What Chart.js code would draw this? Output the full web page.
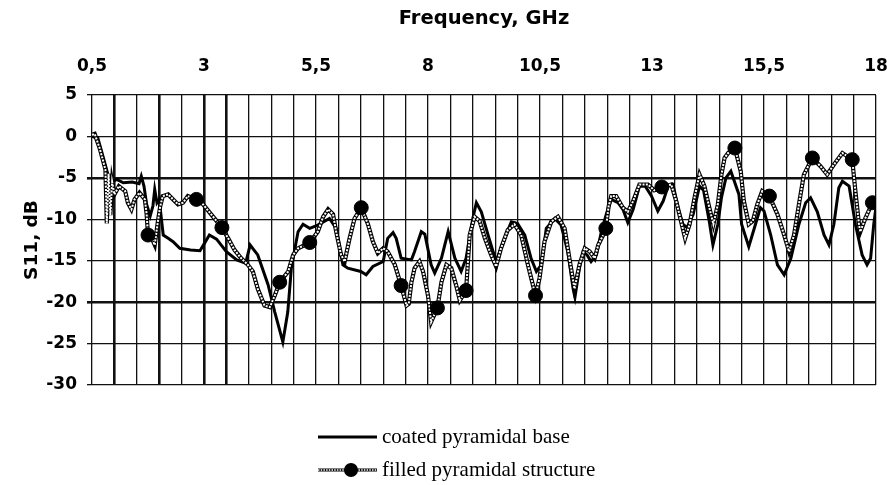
<!DOCTYPE html>
<html>
<head>
<meta charset="utf-8">
<script src="https://cdn.jsdelivr.net/npm/chart.js@4.4.1/dist/chart.umd.min.js"></script>
<style>
  html, body { margin: 0; padding: 0; background: #fff; }
  #wrap { position: relative; width: 887px; height: 485px; }
  #legend { position: absolute; left: 318px; top: 420px; font-family: "Liberation Serif", "Times New Roman", serif; font-size: 21px; color: #000; }
  .row { display: flex; align-items: center; height: 33px; white-space: nowrap; }
  .row svg { margin-right: 4px; }
</style>
</head>
<body>
<div id="wrap">
  <canvas id="c" width="887" height="485"></canvas>
  <div id="legend"></div>
</div>
<script>
// ---- data ----
const xTickValues = [0.5, 3, 5.5, 8, 10.5, 13, 15.5, 18];
const xTickLabels = ['0,5', '3', '5,5', '8', '10,5', '13', '15,5', '18'];
const thickXGrid = [1, 2, 3, 3.5];
const thickYGrid = [-5, -20];

const seriesNames = ['coated pyramidal base', 'filled pyramidal structure'];

// coated pyramidal base
const coatedFreq = [0.5,0.63,0.75,0.85,0.95,1.05,1.2,1.4,1.55,1.6,1.66,1.72,1.8,1.86,1.9,1.95,2.0,2.04,2.09,2.2,2.31,2.46,2.7,2.91,3.0,3.12,3.28,3.5,3.73,3.93,4.03,4.1,4.2,4.43,4.58,4.76,4.87,4.95,5.03,5.1,5.21,5.36,5.54,5.8,5.95,6.1,6.21,6.5,6.62,6.77,7.0,7.1,7.22,7.29,7.4,7.63,7.7,7.85,7.93,8.07,8.15,8.3,8.45,8.6,8.74,8.85,9.0,9.08,9.19,9.34,9.52,9.71,9.86,10.0,10.16,10.3,10.42,10.53,10.64,10.83,10.97,11.12,11.24,11.28,11.38,11.46,11.55,11.64,11.76,11.87,11.98,12.09,12.24,12.35,12.46,12.58,12.72,12.85,12.99,13.13,13.25,13.36,13.47,13.58,13.69,13.78,13.92,14.06,14.15,14.28,14.36,14.47,14.55,14.65,14.76,14.94,15.0,15.16,15.31,15.42,15.5,15.65,15.8,15.95,16.1,16.28,16.43,16.54,16.69,16.84,16.95,17.06,17.17,17.25,17.4,17.54,17.69,17.8,17.88,17.95,18.0];
const coatedS11 = [0,-0.2,-2.5,-4.5,-5.5,-5.2,-5.6,-5.5,-5.7,-4.8,-6,-8.2,-9.6,-8.4,-6.4,-8,-7.6,-9.5,-11.9,-12.3,-12.7,-13.5,-13.7,-13.8,-13,-11.9,-12.4,-13.9,-14.9,-15.3,-13.1,-13.6,-14.3,-17.9,-21.2,-24.8,-21.2,-15.9,-13.5,-11.5,-10.6,-11.1,-10.7,-9.9,-11.1,-15.5,-15.9,-16.3,-16.7,-15.7,-15.1,-12.3,-11.6,-12.3,-14.7,-14.9,-13.9,-11.5,-11.8,-15.5,-16.5,-14.7,-11.5,-14.7,-16.3,-14.7,-9.9,-8.0,-9.1,-11.9,-15.1,-12.3,-10.3,-10.5,-11.9,-14.7,-16.3,-15.5,-11.1,-9.9,-10.7,-13.9,-18.4,-19.4,-15.9,-13.9,-14.3,-15.1,-14.3,-11.5,-9.4,-7.6,-8.0,-8.8,-10.4,-8.8,-6.0,-6.0,-7.2,-9.0,-7.8,-6.0,-5.8,-8.6,-10.6,-11,-9.4,-6.0,-6.5,-10.3,-13.1,-10.6,-7.4,-5,-4.2,-7.0,-10.6,-13.3,-10.6,-8.6,-9,-11.9,-15.5,-16.7,-14.7,-10.6,-8.0,-7.4,-9.1,-11.9,-13.1,-10.6,-6.2,-5.4,-6.0,-10.6,-14.3,-15.5,-14.7,-10.6,-8.5];

// filled pyramidal structure
const filledFreq = [0.5,0.56,0.67,0.75,0.8,0.83,0.87,0.91,0.95,1.0,1.1,1.24,1.3,1.38,1.45,1.56,1.68,1.72,1.75,1.85,1.9,1.97,2.02,2.08,2.2,2.31,2.42,2.53,2.64,2.83,2.98,3.16,3.4,3.54,3.68,3.83,3.98,4.09,4.2,4.35,4.47,4.58,4.69,4.88,4.99,5.1,5.36,5.54,5.66,5.77,5.88,5.95,6.06,6.14,6.25,6.36,6.51,6.66,6.77,6.88,7.0,7.1,7.26,7.4,7.52,7.57,7.63,7.7,7.81,7.89,8.0,8.07,8.21,8.3,8.41,8.52,8.63,8.71,8.85,8.93,9.04,9.15,9.27,9.41,9.52,9.63,9.78,9.93,10.08,10.23,10.4,10.49,10.6,10.75,10.9,11.05,11.15,11.27,11.38,11.5,11.61,11.72,11.8,11.9,11.97,12.03,12.09,12.2,12.35,12.46,12.58,12.72,12.91,13.05,13.22,13.43,13.54,13.65,13.74,13.84,13.95,14.06,14.17,14.28,14.37,14.47,14.55,14.62,14.7,14.85,14.98,15.05,15.16,15.25,15.35,15.46,15.62,15.8,15.95,16.06,16.17,16.28,16.39,16.58,16.76,16.91,17.06,17.25,17.47,17.54,17.62,17.65,17.76,17.92,18.0];
const filledS11 = [0.2,0.3,-1.4,-3.0,-4,-10.5,-4.5,-9.5,-5.5,-7,-6,-6.6,-8.0,-8.8,-7.6,-6.8,-7.6,-9.4,-11.9,-12.5,-13.1,-10.3,-8.5,-7.2,-7.0,-7.6,-8.2,-8.0,-7.2,-7.6,-8.2,-9.4,-11.0,-12.3,-13.7,-14.7,-15.5,-16.3,-18.4,-20.4,-20.6,-19.2,-17.6,-16.3,-14.3,-13.5,-12.8,-11.5,-9.7,-8.8,-9.4,-11.5,-14.3,-15.1,-12.3,-9.9,-8.6,-10.6,-12.7,-14.1,-13.5,-13.9,-15.5,-18.0,-20.4,-20.2,-17.6,-15.9,-15.1,-16.3,-19.2,-22.4,-20.7,-17.6,-15.5,-15.9,-18.0,-19.8,-18.6,-11.9,-9.7,-10.2,-12.3,-14.3,-15.7,-13.5,-11.3,-10.6,-11.9,-15.5,-19.2,-17.1,-12.7,-10.3,-9.7,-11.1,-14.5,-18.4,-15.5,-13.5,-13.9,-14.7,-13.1,-12,-11.1,-8.5,-7.2,-7.2,-8.6,-9.1,-7.8,-5.8,-5.8,-6.5,-6.1,-5.8,-7.8,-10.3,-12.3,-10.6,-7.4,-4.6,-6.0,-8.6,-10.6,-8.2,-4.6,-2.6,-2.0,-1.4,-4.2,-7.8,-10.6,-10.2,-8.2,-6.6,-7.2,-9.4,-11.9,-13.9,-11.9,-8.2,-4.6,-2.6,-3.6,-4.6,-3.4,-2.0,-2.8,-6.6,-10.6,-11.5,-9.9,-8.0,-7.8];
// frequencies of the round markers on the filled series
const filledMarkerFreq = [1.75,2.83,3.4,4.69,5.36,6.51,7.4,8.21,8.85,10.4,11.97,13.22,14.85,15.62,16.58,17.47,17.92];

// ---- build chart ----
const coatedPts = coatedFreq.map((f, i) => ({x: f, y: coatedS11[i]}));
const filledPts = filledFreq.map((f, i) => ({x: f, y: filledS11[i]}));
const isMarker = (v) => filledMarkerFreq.some(m => Math.abs(m - v) < 1e-6);
const near = (a, arr) => arr.some(v => Math.abs(v - a) < 1e-6);

const tickFont = {family: '"DejaVu Sans", "Liberation Sans", Arial, sans-serif', size: 17, weight: 'bold'};
const xTitleFont = {family: '"DejaVu Sans", "Liberation Sans", Arial, sans-serif', size: 19.5, weight: 'bold'};
const yTitleFont = {family: '"DejaVu Sans", "Liberation Sans", Arial, sans-serif', size: 18.5, weight: 'bold'};

new Chart(document.getElementById('c'), {
  type: 'line',
  data: {
    datasets: [
      {
        label: seriesNames[0],
        data: coatedPts,
        borderColor: '#000',
        borderWidth: 3,
        pointRadius: 0,
        tension: 0,
        order: 3
      },
      {
        label: seriesNames[1] + ' outline',
        data: filledPts,
        borderColor: '#000',
        borderWidth: 4.2,
        pointRadius: 0,
        tension: 0,
        order: 2
      },
      {
        label: seriesNames[1],
        data: filledPts,
        borderColor: '#fff',
        borderWidth: 2,
        borderDash: [2, 1.3],
        tension: 0,
        pointStyle: 'circle',
        pointRadius: (ctx) => isMarker(ctx.raw ? ctx.raw.x : NaN) ? 7 : 0,
        pointHoverRadius: 0,
        pointBackgroundColor: '#000',
        pointBorderColor: '#000',
        pointBorderWidth: 1,
        order: 1
      }
    ]
  },
  options: {
    responsive: false,
    animation: false,
    devicePixelRatio: 1,
    layout: {padding: {top: 0, left: 0, right: 11, bottom: 100}},
    plugins: {legend: {display: false}, tooltip: {enabled: false}},
    scales: {
      x: {
        type: 'linear',
        position: 'top',
        min: 0.5,
        max: 18,
        afterFit: (s) => { s.height = 95; s.paddingLeft = 0; s.paddingRight = 0; },
        border: {display: false},
        grid: {
          drawTicks: false,
          color: '#111',
          lineWidth: (ctx) => near(ctx.tick.value, thickXGrid) ? 2.6 : 1.3
        },
        ticks: {
          stepSize: 0.5,
          autoSkip: false,
          maxRotation: 0,
          padding: 18,
          color: '#000',
          font: tickFont,
          callback: (v) => {
            const i = xTickValues.findIndex(t => Math.abs(t - v) < 1e-6);
            return i >= 0 ? xTickLabels[i] : '';
          }
        },
        title: {display: true, text: 'Frequency, GHz', color: '#000', font: xTitleFont, padding: {top: 7, bottom: 0}}
      },
      y: {
        min: -30,
        max: 5,
        afterFit: (s) => { s.width = 92; s.paddingTop = 0; s.paddingBottom = 0; },
        border: {display: false},
        grid: {
          drawTicks: true,
          tickLength: 5,
          color: '#111',
          lineWidth: (ctx) => near(ctx.tick.value, thickYGrid) ? 2.6 : 1.3
        },
        ticks: {stepSize: 5, padding: 10, color: '#000', font: tickFont},
        title: {display: true, text: 'S11, dB', color: '#000', font: yTitleFont, padding: {top: 21, bottom: 0}}
      }
    }
  }
});

// ---- HTML legend ----
const legend = document.getElementById('legend');
legend.innerHTML =
  '<div class="row"><svg width="60" height="14"><line x1="0" y1="7" x2="59" y2="7" stroke="#000" stroke-width="3"/></svg><span>' + seriesNames[0] + '</span></div>' +
  '<div class="row"><svg width="60" height="18"><line x1="0" y1="9" x2="59" y2="9" stroke="#000" stroke-width="3"/><line x1="0" y1="9" x2="59" y2="9" stroke="#fff" stroke-width="1.3" stroke-dasharray="1.5 1.2"/><circle cx="33" cy="9" r="7" fill="#000"/></svg><span>' + seriesNames[1] + '</span></div>';
</script>
</body>
</html>
